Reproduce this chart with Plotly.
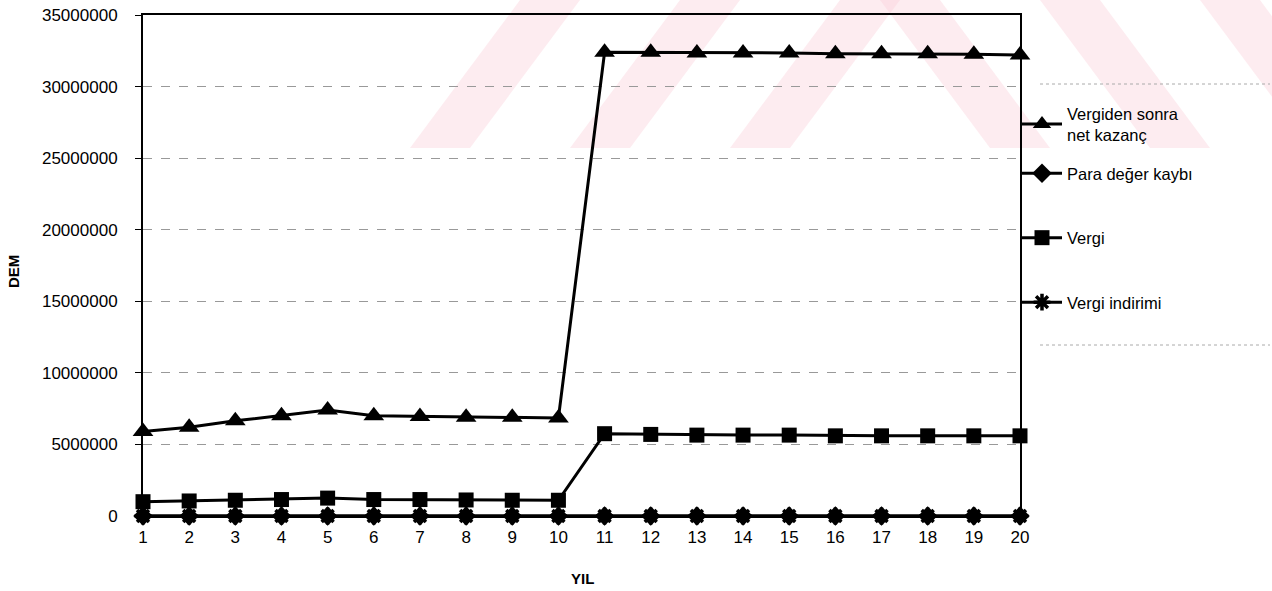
import plotly.graph_objects as go

years = list(range(1, 21))
year_labels = [str(y) for y in years]

net_kazanc = [5900000, 6200000, 6650000, 7000000, 7400000, 7000000, 6950000, 6900000, 6900000, 6850000,
              32400000, 32400000, 32350000, 32350000, 32350000, 32300000, 32300000, 32300000, 32250000, 32200000]
para_deger_kaybi = [0] * 20
vergi = [1000000, 1050000, 1100000, 1150000, 1250000, 1150000, 1150000, 1120000, 1100000, 1100000,
         5750000, 5700000, 5650000, 5650000, 5650000, 5600000, 5600000, 5600000, 5600000, 5600000]
vergi_indirimi = [0] * 20

y_ticks = [0, 5000000, 10000000, 15000000, 20000000, 25000000, 30000000, 35000000]

W, H = 1272, 591
L, R, T, B = 143, 1020, 15, 516
FONT = "Liberation Sans, Arial, sans-serif"

def px(x):
    return (x - L) / (R - L)

def py(y):
    return (B - y) / (B - T)

fig = go.Figure()

series = [
    ("Vergiden sonra<br>net kazanç", net_kazanc, dict(symbol="triangle-up", size=18, color="black"), "legend"),
    ("Para değer kaybı", para_deger_kaybi, dict(symbol="diamond", size=15, color="black"), "legend2"),
    ("Vergi", vergi, dict(symbol="square", size=15, color="black"), "legend2"),
    ("Vergi indirimi", vergi_indirimi, dict(symbol="asterisk", size=14, color="black",
                                            line=dict(color="black", width=3.5)), "legend2"),
]
for i, (name, vals, mk, lg) in enumerate(series):
    fig.add_trace(go.Scatter(
        x=years, y=vals, name=name, mode="lines+markers",
        line=dict(color="black", width=3), marker=mk,
        legendgroup=f"g{i}", legend=lg, cliponaxis=False,
    ))

# watermark stripes (decorative)
shapes = []
pink = "rgba(250,205,215,0.38)"
top_y, bot_y = 0, 148
for x0 in [410, 570, 730]:
    path = (f"M {px(x0)} {py(bot_y)} L {px(x0+60)} {py(bot_y)} "
            f"L {px(x0+170)} {py(top_y)} L {px(x0+110)} {py(top_y)} Z")
    shapes.append(dict(type="path", xref="paper", yref="paper", path=path,
                       fillcolor=pink, line=dict(width=0), layer="below"))
for x0 in [880, 1040, 1200]:
    path = (f"M {px(x0)} {py(top_y)} L {px(x0+60)} {py(top_y)} "
            f"L {px(x0+170)} {py(bot_y)} L {px(x0+110)} {py(bot_y)} Z")
    shapes.append(dict(type="path", xref="paper", yref="paper", path=path,
                       fillcolor=pink, line=dict(width=0), layer="below"))
# legend frame lines (faint dashed)
for yy in [84, 345]:
    shapes.append(dict(type="line", xref="paper", yref="paper",
                       x0=px(1040), x1=px(1270), y0=py(yy), y1=py(yy),
                       line=dict(color="#aaa", width=1, dash="dot")))

leg_common = dict(xanchor="left", yanchor="top", bgcolor="rgba(0,0,0,0)", borderwidth=0,
                  font=dict(family=FONT, size=16.5, color="black"), itemwidth=40)

fig.update_layout(
    width=W, height=H,
    margin=dict(l=L, r=W - R, t=T, b=H - B, autoexpand=False),
    paper_bgcolor="white", plot_bgcolor="rgba(0,0,0,0)",
    font=dict(family=FONT, size=17, color="black"),
    showlegend=True,
    legend=dict(x=px(1017), y=py(96), tracegroupgap=0, **leg_common),
    legend2=dict(x=px(1017), y=py(156), tracegroupgap=40, **leg_common),
    shapes=shapes,
    annotations=[
        dict(text="<b>DEM</b>", xref="paper", yref="paper", x=px(13), y=py(272),
             textangle=-90, showarrow=False, font=dict(family=FONT, size=15, color="black"),
             xanchor="center", yanchor="middle"),
        dict(text="<b>YIL</b>", xref="paper", yref="paper", x=px(582), y=py(578),
             showarrow=False, font=dict(family=FONT, size=15, color="black"),
             xanchor="center", yanchor="middle"),
    ],
    xaxis=dict(range=[1, 20], tickvals=years, ticktext=year_labels,
               showgrid=False, zeroline=False, showline=True, mirror=True,
               linecolor="black", linewidth=2, ticks="", ticklabelstandoff=5,
               tickfont=dict(family=FONT, size=17, color="black")),
    yaxis=dict(range=[0, 35000000], tickvals=y_ticks, ticktext=[str(v) for v in y_ticks],
               showgrid=True, gridcolor="#999", griddash="dash", gridwidth=1,
               zeroline=False, showline=True, mirror=True,
               linecolor="black", linewidth=2, ticks="outside", ticklen=6, tickcolor="black",
               ticklabelstandoff=14,
               tickfont=dict(family=FONT, size=17, color="black")),
)

fig.write_html("out.html", config={"displayModeBar": False},
               post_script="document.body.style.margin='0px';")
